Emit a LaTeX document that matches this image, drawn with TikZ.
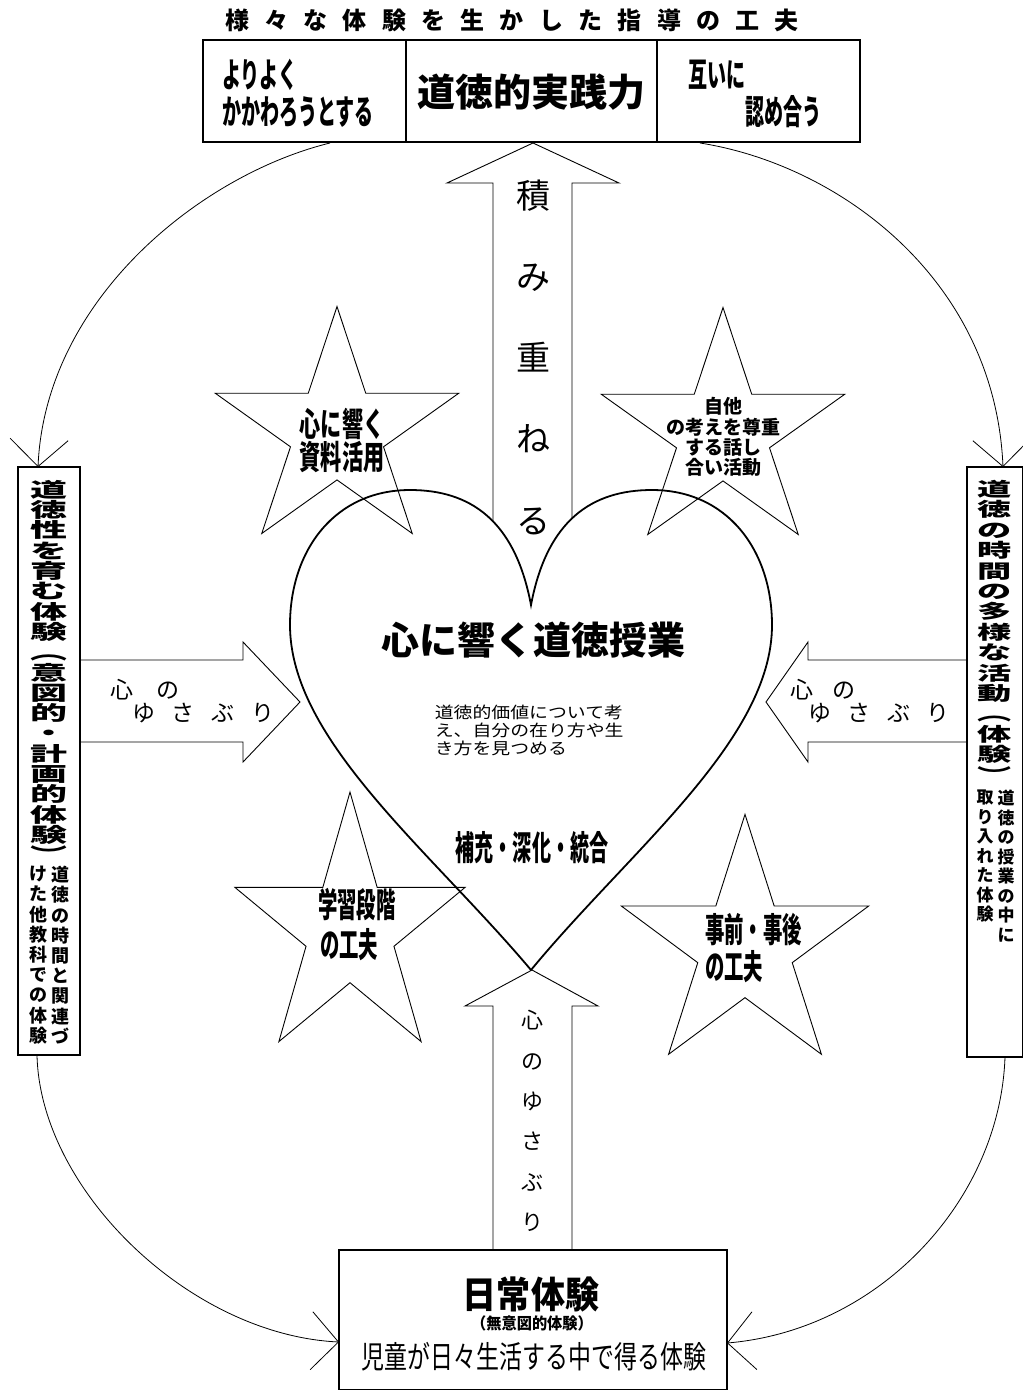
\documentclass[tikz,border=0pt]{standalone}
\usepackage{fontspec}
\usepackage{graphicx}
\usetikzlibrary{arrows.meta,calc}
\newfontfamily\jp{Noto Sans CJK JP}
% xscale, size, pitch, width(em), text
\newcommand\ptxt[5]{\scalebox{#1}[1]{\fontsize{#2}{#3}\selectfont\parbox{#4em}{\centering\lineskiplimit=-100pt\relax #5}}}
\newcommand\ptxl[5]{\scalebox{#1}[1]{\fontsize{#2}{#3}\selectfont\parbox{#4em}{\raggedright\lineskiplimit=-100pt\relax #5}}}
\newcommand\stxt[3]{\scalebox{#1}[1]{\fontsize{#2}{#2}\selectfont #3}}
\newcommand\drawstar[5]{%
  \draw[starln, shift={(#2,#3)}, yscale=#5] (-90:#4) -- (-54:{0.382*#4}) -- (-18:#4) -- (18:{0.382*#4}) -- (54:#4) -- (90:{0.382*#4}) -- (126:#4) -- (162:{0.382*#4}) -- (198:#4) -- (234:{0.382*#4}) -- cycle;
  \coordinate (#1) at (#2,#3);}
\begin{document}
\begin{tikzpicture}[x=1pt,y=-1pt,
  box/.style={draw, line width=1.5pt, fill=white, inner sep=0pt},
  blk/.style={draw, line width=0.9pt, line join=miter},
  crv/.style={line width=0.8pt, -{Straight Barb[length=27pt,width=58pt,line width=0.8pt]}},
  starln/.style={line width=0.9pt, line join=miter},
  t/.style={inner sep=0pt, font=\jp},
  tb/.style={inner sep=0pt, font=\jp\bfseries}]
\useasboundingbox (0,0) rectangle (1023,1390);
\fill[white] (0,0) rectangle (1023,1390);

% title
\node[tb] (title) at (512,20) {\fontsize{24}{24}\selectfont\makebox[574pt]{様\hfill 々\hfill な\hfill 体\hfill 験\hfill を\hfill 生\hfill か\hfill し\hfill た\hfill 指\hfill 導\hfill の\hfill 工\hfill 夫}};

% up arrow (behind heart)
\draw[blk, fill=white] (493,640) -- (493,183) -- (447,183) -- (533,143) -- (619,183) -- (572,183) -- (572,640) -- cycle;
% side arrows
\draw[blk, fill=white] (80,660) -- (243,660) -- (243,642) -- (300,702) -- (243,762) -- (243,742) -- (80,742) -- cycle;
\draw[blk, fill=white] (967,660) -- (808,660) -- (808,642) -- (766,702) -- (808,762) -- (808,742) -- (967,742) -- cycle;

% heart
\draw[line width=1.8pt, fill=white] (531,605) .. controls (515,520) and (470,490) .. (410,490)
  .. controls (335,490) and (290,550) .. (290,625)
  .. controls (290,740) and (430,850) .. (531,970)
  .. controls (630,850) and (772,740) .. (772,625)
  .. controls (772,550) and (727,490) .. (652,490)
  .. controls (592,490) and (547,520) .. (531,605) -- cycle;

% bottom arrow
\draw[blk, fill=white] (493,1250) -- (493,1006) -- (465,1006) -- (532,970) -- (598,1006) -- (572,1006) -- (572,1250);

% stars
\drawstar{s1}{337}{432}{128}{0.98}
\drawstar{s2}{723}{433}{128}{0.98}
\drawstar{s3}{350}{930}{121}{1.14}
\drawstar{s4}{745}{947}{130}{1.02}

% top boxes
\node[box, minimum width=203pt, minimum height=102pt] (tl) at (304.5,91) {};
\node[box, minimum width=251pt, minimum height=102pt] (tm) at (531.5,91) {};
\node[box, minimum width=203pt, minimum height=102pt] (tr) at (758.5,91) {};
\node[tb, anchor=west] (tl1) at (222,75) {\stxt{0.56}{34}{よりよく}};
\node[tb, anchor=west] (tl2) at (222,112) {\stxt{0.56}{34}{かかわろうとする}};
\node[tb] (tm1) at (531,92) {\fontsize{38}{38}\selectfont 道徳的実践力};
\node[tb, anchor=west] (tr1) at (688,75) {\stxt{0.56}{34}{互いに}};
\node[tb, anchor=west] (tr2) at (745,112) {\stxt{0.56}{34}{認め合う}};

% side boxes
\node[box, minimum width=62pt, minimum height=588pt] (lb) at (49,761) {};
\node[box, minimum width=56pt, minimum height=590pt] (rb) at (995,762) {};
\node[tb, anchor=north] (lbm) at (49,480) {\ptxt{1.85}{20}{20.3}{1.1}{道\\徳\\性\\を\\育\\む\\体\\験\\︵\\意\\図\\的\\・\\計\\画\\的\\体\\験\\︶}};
\node[tb, anchor=north] (lbs1) at (60,866) {\ptxt{1}{18}{20.2}{1.1}{道\\徳\\の\\時\\間\\と\\関\\連\\づ}};
\node[tb, anchor=north] (lbs2) at (38,866) {\ptxt{1}{18}{20.2}{1.1}{け\\た\\他\\教\\科\\で\\の\\体\\験}};
\node[tb, anchor=north] (rbm) at (995,480) {\ptxt{1.8}{19}{20.4}{1.1}{道\\徳\\の\\時\\間\\の\\多\\様\\な\\活\\動\\︵\\体\\験\\︶}};
\node[tb, anchor=north] (rbs1) at (1006,790) {\ptxt{1}{17}{19.5}{1.1}{道\\徳\\の\\授\\業\\の\\中\\に}};
\node[tb, anchor=north] (rbs2) at (985,790) {\ptxt{1}{17}{19.5}{1.1}{取\\り\\入\\れ\\た\\体\\験}};

% bottom box
\node[box, minimum width=388pt, minimum height=140pt] (bb) at (533,1320) {};
\node[tb] (bb1) at (531,1294) {\stxt{0.92}{37}{日常体験}};
\node[tb] (bb2) at (532,1323) {\stxt{0.95}{16}{（無意図的体験）}};
\node[t] (bb3) at (534,1357) {\stxt{0.74}{31}{児童が日々生活する中で得る体験}};

% curved connectors
\coordinate (c1s) at (330,143); \coordinate (c1e) at (38,467);
\coordinate (c2s) at (700,143); \coordinate (c2e) at (1003,467);
\coordinate (c3s) at (37,1055); \coordinate (c3e) at (339,1342);
\coordinate (c4s) at (1005,1057); \coordinate (c4e) at (727,1343);
\draw[crv] (c1s) .. controls (200,175) and (45,300) .. (c1e);
\draw[crv] (c2s) .. controls (840,165) and (995,280) .. (c2e);
\draw[crv] (c3s) .. controls (40,1190) and (190,1335) .. (c3e);
\draw[crv] (c4s) .. controls (1000,1200) and (880,1330) .. (c4e);

% heart texts
\node[tb] (h1) at (533,640) {\fontsize{38}{38}\selectfont 心に響く道徳授業};
\node[t] (h2) at (532,730) {\ptxl{1.18}{16}{18}{10.3}{道徳的価値について考\\え、自分の在り方や生\\き方を見つめる}};
\node[tb] (h3) at (532,848) {\stxt{0.56}{34}{補充・深化・統合}};

% star texts
\node[tb] (s1t) at (342,441) {\ptxt{0.64}{33}{33}{4.3}{心に響く\\資料活用}};
\node[tb] (s2t) at (723,437) {\ptxt{1}{19}{20.3}{6.3}{自他\\の考えを尊重\\する話し\\合い活動}};
\node[tb, anchor=west] (s3a) at (318,905) {\stxt{0.57}{34}{学習段階}};
\node[tb, anchor=west] (s3b) at (320,945) {\stxt{0.57}{34}{の工夫}};
\node[tb, anchor=west] (s4a) at (705,930) {\stxt{0.57}{34}{事前・事後}};
\node[tb, anchor=west] (s4b) at (705,967) {\stxt{0.57}{34}{の工夫}};

% arrow texts
\node[t] (ua) at (533,357) {\ptxt{1}{34}{81.25}{1.2}{積\\み\\重\\ね\\る}};
\node[t] (da) at (532,1121) {\ptxt{1}{22}{40.4}{1.2}{心\\の\\ゆ\\さ\\ぶ\\り}};
\node[t] (la1) at (145,690) {\fontsize{23}{23}\selectfont\makebox[70pt]{心\hfill の}};
\node[t] (la2) at (203.5,713) {\fontsize{23}{23}\selectfont\makebox[143pt]{ゆ\hfill さ\hfill ぶ\hfill り}};
\node[t] (ra1) at (822.5,690) {\fontsize{23}{23}\selectfont\makebox[65pt]{心\hfill の}};
\node[t] (ra2) at (879,713) {\fontsize{23}{23}\selectfont\makebox[142pt]{ゆ\hfill さ\hfill ぶ\hfill り}};
\end{tikzpicture}
\end{document}
